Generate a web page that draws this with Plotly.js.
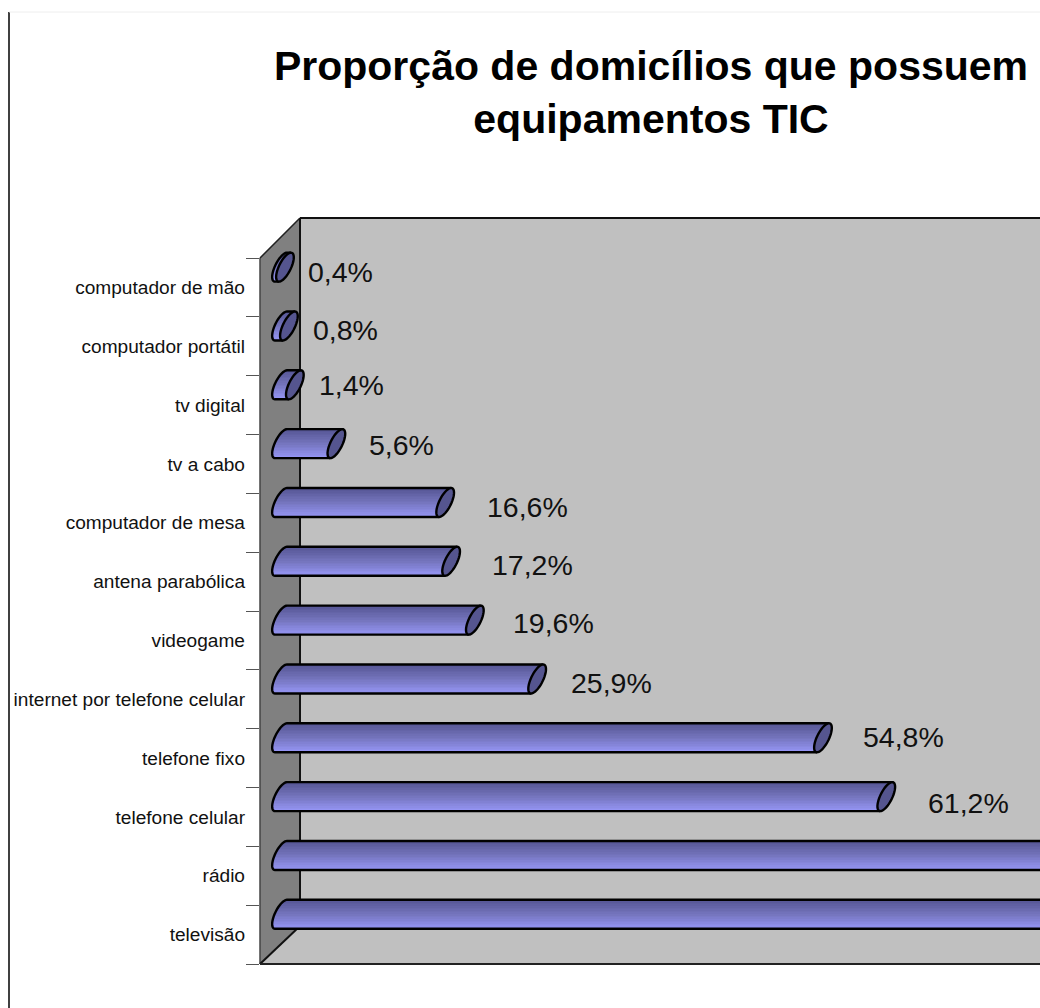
<!DOCTYPE html>
<html><head><meta charset="utf-8">
<script src="https://cdn.plot.ly/plotly-3.0.1.min.js"></script>
<style>html,body{margin:0;padding:0;background:#fff}</style></head>
<body><div id="chart" style="width:1040px;height:1008px"></div>
<script>
// ---- data (bottom to top) ----
const categories = ["televisão","rádio","telefone celular","telefone fixo","internet por telefone celular","videogame","antena parabólica","computador de mesa","tv a cabo","tv digital","computador portátil","computador de mão"];
// the first two bars run off the page: their labels are not visible, values are estimates
const values = [95.0, 87.0, 61.2, 54.8, 25.9, 19.6, 17.2, 16.6, 5.6, 1.4, 0.8, 0.4];
const labels = ["95,0%","87,0%","61,2%","54,8%","25,9%","19,6%","17,2%","16,6%","5,6%","1,4%","0,8%","0,4%"];

// ---- layout constants ----
const W=1040,H=1008,L=260,R=1040,T=218,B=964;
const pxPerUnit=9.89, zeroPx=281, rowPx=58.83;
const xRange=[(L-zeroPx)/pxPerUnit,(R-zeroPx)/pxPerUnit];
const yRange=[-0.5,-0.5+(B-T)/rowPx];
const shift=0.345, half=14.5/rowPx;          // cylinder centre & half height, in row units
const tiltU=6/pxPerUnit, capU=6.5/pxPerUnit; // ellipse shape, in value units
const labelDx=[0,0,82,81,74,79,81,82,65,57,57,56];
const labelDy=[0,0,6,-1,4,3,4,5,1,0,4,5];
const px=x=>(x-L)/(R-L), py=y=>(B-y)/(B-T);

// gradient bands: each band follows the rounded left end of the cylinder
const N=18, traces=[];
const c0=[84,84,146], c1=[116,116,188], c2=[150,150,246];
for(let j=0;j<N;j++){
  const f=(j+0.5)/N, t=1-2*f;            // t=+1 top, -1 bottom
  const m=f<0.5?f*2:(f-0.5)*2, a=f<0.5?c0:c1, b=f<0.5?c1:c2;
  const col=`rgb(${a.map((v,i)=>Math.round(v+(b[i]-v)*m)).join(',')})`;
  const bases=values.map(()=>tiltU*t-capU*Math.sqrt(1-t*t));
  const lens=values.map((v,i)=>v+tiltU*t-bases[i]);
  traces.push({type:'bar',orientation:'h',y:categories,x:lens,base:bases,
    width:2*half/N+0.004,offset:shift+half*t-half/N,
    marker:{color:col,line:{width:0}},hoverinfo:'skip',showlegend:false});
}

function pt(v,cy,th){return [v+capU*Math.cos(th)+tiltU*Math.sin(th),cy+half*Math.sin(th)];}
const shapes=[
  // back wall, floor, side wall
  {type:'rect',xref:'paper',yref:'paper',x0:px(300),x1:1,y0:py(926),y1:py(218),fillcolor:'#c0c0c0',line:{width:0},layer:'below'},
  {type:'path',xref:'paper',yref:'paper',layer:'below',fillcolor:'#c0c0c0',line:{width:0},
   path:`M${px(260)},0 L${px(300)},${py(926)} L1,${py(926)} L1,0 Z`},
  {type:'path',xref:'paper',yref:'paper',layer:'below',fillcolor:'#808080',line:{width:0},
   path:`M${px(260)},0 L${px(260)},${py(258)} L${px(300)},1 L${px(300)},${py(926)} Z`},
  {type:'line',xref:'paper',yref:'paper',layer:'below',x0:px(300),y0:py(929),x1:1,y1:py(929),line:{color:'#8c8c8c',width:1}},
  {type:'line',xref:'paper',yref:'paper',layer:'below',x0:px(260),x1:px(260),y0:0,y1:py(258),line:{color:'#444',width:1.5}},
  {type:'line',xref:'paper',yref:'paper',layer:'below',x0:px(260),y0:py(258),x1:px(300),y1:1,line:{color:'#222',width:1.5}},
  {type:'line',xref:'paper',yref:'paper',layer:'below',x0:px(300),y0:1,x1:1,y1:1,line:{color:'#111',width:2}},
  {type:'line',xref:'paper',yref:'paper',layer:'below',x0:px(300),y0:1,x1:px(300),y1:py(926),line:{color:'#111',width:2}},
  {type:'line',xref:'paper',yref:'paper',layer:'below',x0:px(260),y0:0,x1:px(300),y1:py(926),line:{color:'#111',width:2}},
  {type:'line',xref:'paper',yref:'paper',layer:'below',x0:px(260),y0:0,x1:1,y1:0,line:{color:'#222',width:2}},
  // page border lines
  {type:'line',xref:'paper',yref:'paper',layer:'below',x0:px(9),y0:py(12),x1:px(9),y1:py(1008),line:{color:'#000',width:1.5}},
  {type:'line',xref:'paper',yref:'paper',layer:'below',x0:px(9),y0:py(12),x1:1,y1:py(12),line:{color:'#eeeeee',width:1}}
];
values.forEach((v,i)=>{
  const cy=i+shift;
  let out=[];
  out.push([v+tiltU,cy+half]);
  for(let k=0;k<=24;k++){out.push(pt(0,cy,Math.PI/2+Math.PI*k/24));}
  out.push([v-tiltU,cy-half]);
  shapes.push({type:'path',xref:'x',yref:'y',layer:'above',line:{color:'#000',width:2.4},
    path:'M'+out.map(p=>p.join(',')).join(' L')});
  let cap=[];
  for(let k=0;k<48;k++){cap.push(pt(v,cy,2*Math.PI*k/48));}
  shapes.push({type:'path',xref:'x',yref:'y',layer:'above',fillcolor:'#55558f',line:{color:'#000',width:2.4},
    path:'M'+cap.map(p=>p.join(',')).join(' L')+' Z'});
});

const annotations=values.map((v,i)=>({x:v,y:i+shift,xref:'x',yref:'y',text:labels[i],showarrow:false,
  xshift:labelDx[i],yshift:-labelDy[i],font:{family:'Liberation Sans',size:28.5,color:'#111'}}));

Plotly.newPlot('chart',traces,{
  width:W,height:H,autosize:false,
  margin:{l:L,r:W-R,t:T,b:H-B,pad:0},
  paper_bgcolor:'#fff',plot_bgcolor:'rgba(0,0,0,0)',
  barmode:'overlay',bargap:0,showlegend:false,
  font:{family:'Liberation Sans',color:'#000'},
  title:{text:'Proporção de domicílios que possuem<br>equipamentos TIC',x:651/W,xanchor:'center',y:1-80/H,yanchor:'middle',
    font:{family:'Liberation Sans',size:41,color:'#000',weight:'bold'}},
  xaxis:{range:xRange,showgrid:false,zeroline:false,showticklabels:false,ticks:'',showline:false,fixedrange:true},
  yaxis:{type:'category',categoryorder:'array',categoryarray:categories,range:yRange,tickson:'boundaries',
    ticks:'outside',ticklen:13,tickwidth:1,tickcolor:'#555',showgrid:false,zeroline:false,showline:false,ticklabelstandoff:14,
    tickfont:{family:'Liberation Sans',size:19.1,color:'#111'},fixedrange:true,automargin:false},
  shapes,annotations
},{displayModeBar:false,staticPlot:true});
</script></body></html>
